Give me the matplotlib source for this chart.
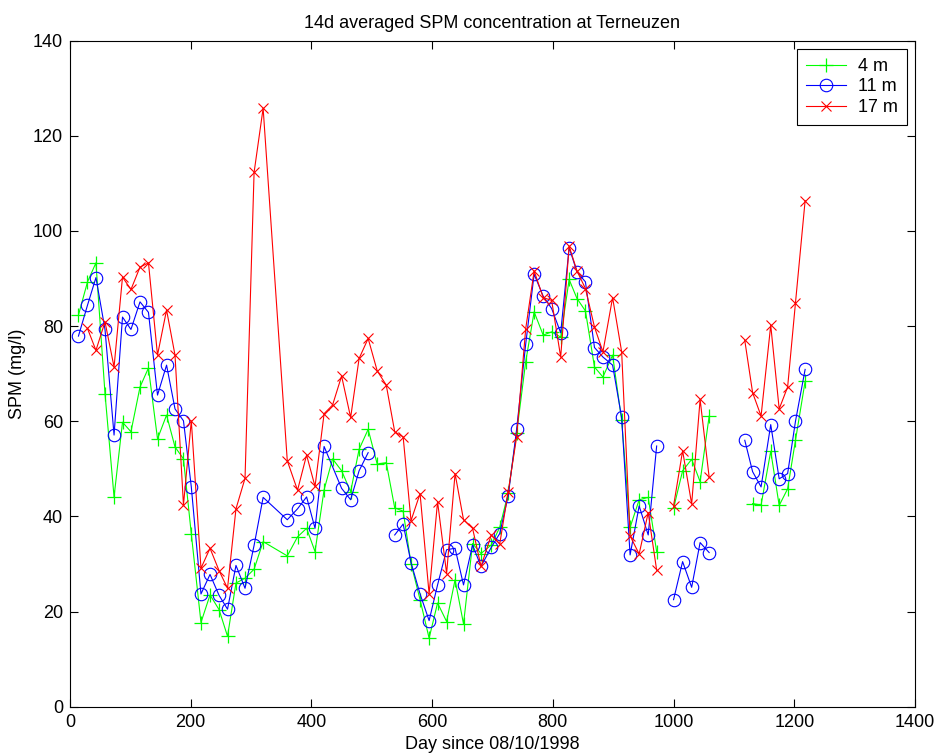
import numpy as np
import matplotlib
matplotlib.use("Agg")
import matplotlib.pyplot as plt

nan = np.nan

days = [14, 29, 43, 58, 73, 87, 101, 116, 130, 145,
        160, 174, 188, 201, 217, 232, 247, 261, 275, 290,
        305, 320, 360, 377, 392, 406, 421, 435, 450, 465,
        479, 494, 509, 524, 538, 552, 565, 580, 595, 609,
        624, 638, 652, 667, 681, 698, 712, 726, 740, 755,
        769, 784, 798, 813, 827, 840, 854, 869, 883, 899,
        914, 928, 943, 958, 972, 1000, 1015, 1030, 1044, 1059,
        1118, 1131, 1145, 1161, 1175, 1189, 1202, 1218]

# None = no sample (line continues), nan = gap (line breaks)
spm_4m = [82.3, 89.3, 93.3, 65.8, 44.1, 59.8, 57.8, 67.2, 71.2, 56.3,
          61.3, 54.6, 52.1, 36.3, 17.7, 23.5, 20.4, 14.8, 26.0, 27.0,
          28.9, 34.7, 31.7, 35.7, 37.5, 32.6, 45.6, 52.1, 49.6, 45.2,
          54.1, 58.3, 51.0, 51.3, 41.8, 41.1, 30.1, 22.5, 14.4, 21.8,
          17.9, 26.7, 17.4, 34.3, 32.2, 34.0, 37.7, 44.9, 57.5, 72.5,
          83.0, 78.1, 78.8, 77.7, 89.8, 85.8, 83.2, 71.4, 69.3, 73.9,
          60.2, 37.7, 43.5, 44.0, 32.6, 41.7, 49.6, 52.0, 47.3, 61.1,
          nan, 42.7, 42.4, 53.7, 42.3, 45.8, 56.0, 68.4]

spm_11m = [77.9, 84.4, 90.2, 79.3, 57.1, 81.9, 79.3, 85.1, 82.9, 65.5,
           71.8, 62.6, 60.1, 46.2, 23.7, 27.8, 23.4, 20.5, 29.7, 24.9,
           33.9, 44.0, 39.3, 41.6, 44.1, 37.5, 54.7, None, 45.9, 43.5,
           49.6, 53.4, nan, nan, 36.1, 38.4, 30.3, 23.7, 18.1, 25.6,
           33.0, 33.3, 25.6, 34.0, 29.5, 33.5, 36.4, 44.3, 58.3, 76.2,
           90.9, 86.3, 83.7, 78.6, 96.5, 91.4, 89.3, 75.5, 73.5, 71.8,
           60.8, 31.9, 42.2, 36.1, 54.8, 22.5, 30.5, 25.1, 34.5, 32.4,
           56.0, 49.4, 46.2, 59.3, 47.9, 49.0, 60.0, 70.9]

spm_17m = [nan, 79.5, 74.9, 80.9, 71.4, 90.3, 87.7, 92.4, 93.3, 73.9,
           83.4, 73.9, 42.4, 60.1, 29.1, 33.3, 28.6, 24.9, 41.6, 48.0,
           112.3, 125.8, 51.7, 45.5, 52.9, 46.3, 61.6, 63.4, 69.5, 60.8,
           73.2, 77.4, 70.6, 67.6, 57.8, 56.7, 39.1, 44.8, 23.7, 43.1,
           28.0, 49.0, 39.3, 37.5, 29.5, 36.1, 34.2, 45.2, 56.7, 79.4,
           91.6, 86.0, 85.4, 73.5, 96.8, 91.6, 87.9, 79.8, 74.6, 86.0,
           74.6, 35.9, 32.1, 40.8, 28.7, 42.2, 53.8, 42.6, 64.6, 48.2,
           77.0, 66.0, 61.1, 80.2, 62.6, 67.2, 84.9, 106.4]

# measurement campaigns (day ranges), line is broken between them
campaigns = [(0, 985), (990, 1080), (1100, 1250)]

labels = ["4 m", "11 m", "17 m"]

plt.rcParams['font.family'] = ['Liberation Sans', 'DejaVu Sans']

fig = plt.figure(figsize=(9.37, 7.56), dpi=100)
ax = fig.add_axes([0.0747, 0.0652, 0.9018, 0.881])

styles = [dict(color=(0, 1, 0), marker='+', markersize=10, markeredgewidth=0.9),
          dict(color=(0, 0, 1), marker='o', markersize=9, markerfacecolor='none', markeredgewidth=0.8),
          dict(color=(1, 0, 0), marker='x', markersize=7, markeredgewidth=0.8)]

for vals, lab, st in zip([spm_4m, spm_11m, spm_17m], labels, styles):
    first = True
    for lo, hi in campaigns:
        xs, ys = [], []
        for d, v in zip(days, vals):
            if v is None or d < lo or d > hi:
                continue
            xs.append(d)
            ys.append(v)
        ax.plot(xs, ys, linewidth=0.8, label=lab if first else None, **st)
        first = False

ax.set_xlim(0, 1400)
ax.set_ylim(0, 140)
ax.set_xticks(np.arange(0, 1401, 200))
ax.set_yticks(np.arange(0, 141, 20))
ax.tick_params(direction='in', top=True, right=True, length=6, width=0.8, labelsize=13, pad=5)
for s in ax.spines.values():
    s.set_linewidth(0.8)

ax.set_title("14d averaged SPM concentration at Terneuzen", fontsize=13, pad=9)
ax.set_xlabel("Day since 08/10/1998", fontsize=13, labelpad=4)
ax.set_ylabel("SPM (mg/l)", fontsize=13, labelpad=5)

leg = ax.legend(loc='upper right', fontsize=13, fancybox=False, framealpha=1,
                edgecolor='black', borderpad=0.5, labelspacing=0.2,
                handlelength=2.2, handletextpad=0.65, borderaxespad=0.45)
leg.get_frame().set_linewidth(0.8)

fig.savefig("out.png", dpi=100)
